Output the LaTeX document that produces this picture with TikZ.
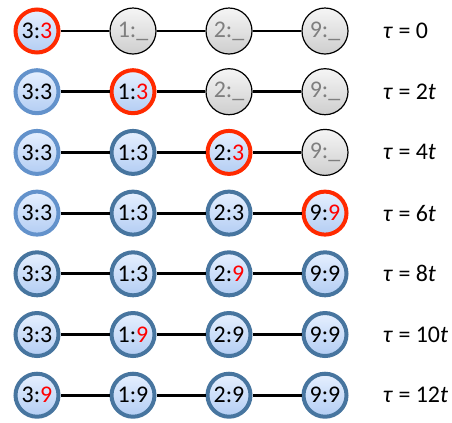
\documentclass[tikz,border=0pt]{standalone}
\usepackage{fontspec}
\setmainfont{Carlito}
\usetikzlibrary{calc}

\definecolor{activered}{HTML}{FF2A00}
\definecolor{newred}{HTML}{FF0000}
\definecolor{doneblue}{HTML}{47759F}
\definecolor{lightblue}{HTML}{6392CB}
\definecolor{bluetop}{HTML}{E6F0FF}
\definecolor{bluebot}{HTML}{B3CDF3}
\definecolor{greytop}{HTML}{F5F5F5}
\definecolor{greybot}{HTML}{CECECE}
\definecolor{greytext}{HTML}{7F7F7F}

\tikzset{
  every node/.style={font=\fontsize{17}{20}\selectfont},
  waitnode/.style={circle, draw=black, line width=0.03cm, top color=greytop,
    bottom color=greybot, minimum size=1.15cm, inner sep=0pt, text=greytext},
  donenode/.style={circle, draw=doneblue, line width=0.1cm, top color=bluetop,
    bottom color=bluebot, minimum size=1.075cm, inner sep=0pt},
  freshnode/.style={donenode, draw=lightblue},
  activenode/.style={donenode, draw=activered},
  link/.style={line width=0.07cm},
  timelabel/.style={anchor=west}
}
\newcommand{\upd}[1]{\textcolor{newred}{#1}}

\begin{document}
\begin{tikzpicture}

  % --- Parameter ---
  \def\rowdist{1.5175}  % Abstand zwischen den Zeilen
  \def\coldist{2.4}     % Abstand zwischen den Knoten

  \useasboundingbox (0,0) rectangle (11.3,-10.55);

  % --- Zeile 1: tau = 0 ---
  \node[activenode] (A1) at (0.925,-0.775) {3:\upd{3}};
  \node[waitnode]   (B1) at ($(A1)+(\coldist,0)$) {1:\_};
  \node[waitnode]   (C1) at ($(B1)+(\coldist,0)$) {2:\_};
  \node[waitnode]   (D1) at ($(C1)+(\coldist,0)$) {9:\_};
  \node[timelabel]  (T1) at (9.45,-0.775) {\textit{τ} = 0};

  % --- Zeile 2: tau = 2t ---
  \node[freshnode]  (A2) at ($(A1)-(0,\rowdist)$) {3:3};
  \node[activenode] (B2) at ($(B1)-(0,\rowdist)$) {1:\upd{3}};
  \node[waitnode]   (C2) at ($(C1)-(0,\rowdist)$) {2:\_};
  \node[waitnode]   (D2) at ($(D1)-(0,\rowdist)$) {9:\_};
  \node[timelabel]  (T2) at (A2 -| T1.west) {\textit{τ} = 2\textit{t}};

  % --- Zeile 3: tau = 4t ---
  \node[freshnode]  (A3) at ($(A2)-(0,\rowdist)$) {3:3};
  \node[donenode]   (B3) at ($(B2)-(0,\rowdist)$) {1:3};
  \node[activenode] (C3) at ($(C2)-(0,\rowdist)$) {2:\upd{3}};
  \node[waitnode]   (D3) at ($(D2)-(0,\rowdist)$) {9:\_};
  \node[timelabel]  (T3) at (A3 -| T1.west) {\textit{τ} = 4\textit{t}};

  % --- Zeile 4: tau = 6t ---
  \node[freshnode]  (A4) at ($(A3)-(0,\rowdist)$) {3:3};
  \node[donenode]   (B4) at ($(B3)-(0,\rowdist)$) {1:3};
  \node[donenode]   (C4) at ($(C3)-(0,\rowdist)$) {2:3};
  \node[activenode] (D4) at ($(D3)-(0,\rowdist)$) {9:\upd{9}};
  \node[timelabel]  (T4) at (A4 -| T1.west) {\textit{τ} = 6\textit{t}};

  % --- Zeile 5: tau = 8t ---
  \node[donenode]   (A5) at ($(A4)-(0,\rowdist)$) {3:3};
  \node[donenode]   (B5) at ($(B4)-(0,\rowdist)$) {1:3};
  \node[donenode]   (C5) at ($(C4)-(0,\rowdist)$) {2:\upd{9}};
  \node[donenode]   (D5) at ($(D4)-(0,\rowdist)$) {9:9};
  \node[timelabel]  (T5) at (A5 -| T1.west) {\textit{τ} = 8\textit{t}};

  % --- Zeile 6: tau = 10t ---
  \node[donenode]   (A6) at ($(A5)-(0,\rowdist)$) {3:3};
  \node[donenode]   (B6) at ($(B5)-(0,\rowdist)$) {1:\upd{9}};
  \node[donenode]   (C6) at ($(C5)-(0,\rowdist)$) {2:9};
  \node[donenode]   (D6) at ($(D5)-(0,\rowdist)$) {9:9};
  \node[timelabel]  (T6) at (A6 -| T1.west) {\textit{τ} = 10\textit{t}};

  % --- Zeile 7: tau = 12t ---
  \node[donenode]   (A7) at ($(A6)-(0,\rowdist)$) {3:\upd{9}};
  \node[donenode]   (B7) at ($(B6)-(0,\rowdist)$) {1:9};
  \node[donenode]   (C7) at ($(C6)-(0,\rowdist)$) {2:9};
  \node[donenode]   (D7) at ($(D6)-(0,\rowdist)$) {9:9};
  \node[timelabel]  (T7) at (A7 -| T1.west) {\textit{τ} = 12\textit{t}};

  % --- Verbindungen ---
  \draw[link] (A1) -- (B1) -- (C1) -- (D1);
  \draw[link] (A2) -- (B2) -- (C2) -- (D2);
  \draw[link] (A3) -- (B3) -- (C3) -- (D3);
  \draw[link] (A4) -- (B4) -- (C4) -- (D4);
  \draw[link] (A5) -- (B5) -- (C5) -- (D5);
  \draw[link] (A6) -- (B6) -- (C6) -- (D6);
  \draw[link] (A7) -- (B7) -- (C7) -- (D7);

\end{tikzpicture}
\end{document}
